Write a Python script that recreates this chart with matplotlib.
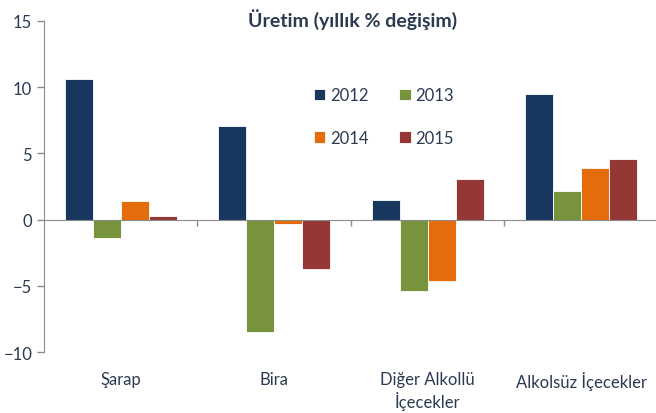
import numpy as np
import matplotlib.pyplot as plt
from matplotlib.transforms import blended_transform_factory

plt.rcParams['font.family'] = ['Lato', 'DejaVu Sans']

# veriler
kategoriler = ["Şarap", "Bira", "Diğer Alkollü\nİçecekler", "Alkolsüz İçecekler"]
yillar = ["2012", "2013", "2014", "2015"]
d2012 = [10.6, 7.1, 1.5, 9.5]
d2013 = [-1.4, -8.5, -5.4, 2.2]
d2014 = [1.4, -0.3, -4.6, 3.9]
d2015 = [0.3, -3.7, 3.1, 4.6]
renkler = ["#17375E", "#77933C", "#E46C0A", "#953735"]

seriler = [d2012, d2013, d2014, d2015]
yazi_renk = "#2B3A52"
eksen_renk = "#8C8C8C"

fig = plt.figure(figsize=(6.56, 4.14), dpi=100)
ax = fig.add_axes([0.067, 0.147, 0.936, 0.8])

x = np.arange(len(kategoriler))
w = 0.182
cubuklar = []
for i, (seri, renk, yil) in enumerate(zip(seriler, renkler, yillar)):
    b = ax.bar(x + (i - 1.5) * w, seri, width=w, color=renk, label=yil,
               edgecolor="white", linewidth=0.6)
    cubuklar.append(b)

ax.set_xlim(-0.5, 3.5)
ax.set_ylim(-10, 15)
ax.set_yticks([-10, -5, 0, 5, 10, 15])
ax.tick_params(axis='y', colors=eksen_renk, labelcolor=yazi_renk,
               labelsize=12, length=5, width=1)

# sıfır çizgisi ve kategori ayraçları
for s in ["top", "right"]:
    ax.spines[s].set_visible(False)
ax.spines["bottom"].set_position(("data", 0))
ax.spines["bottom"].set_color(eksen_renk)
ax.spines["left"].set_color(eksen_renk)
ax.set_xticks([0.5, 1.5, 2.5])
ax.set_xticklabels([])
ax.tick_params(axis='x', colors=eksen_renk, length=4, width=1, direction='out')

tr = blended_transform_factory(ax.transData, fig.transFigure)
for xi, ad in zip(x, kategoriler):
    ax.text(xi, 1 - 372 / 414, ad, transform=tr, ha="center", va="top",
            fontsize=12, color=yazi_renk, linespacing=1.25)

fig.text(0.537, 1 - 20 / 414, "Üretim (yıllık % değişim)", ha="center", va="center",
         fontsize=14, color=yazi_renk, fontweight="bold")

# satır satır: 2012 2013 / 2014 2015
sira = [0, 2, 1, 3]
ax.legend([cubuklar[k] for k in sira], [yillar[k] for k in sira],
          loc="upper left", bbox_to_anchor=(0.415, 0.845), ncol=2, frameon=False,
          fontsize=12, labelcolor=yazi_renk, handlelength=0.7, handleheight=0.7,
          handletextpad=0.3, columnspacing=1.8, labelspacing=1.6)

plt.savefig("out.png", dpi=100)
